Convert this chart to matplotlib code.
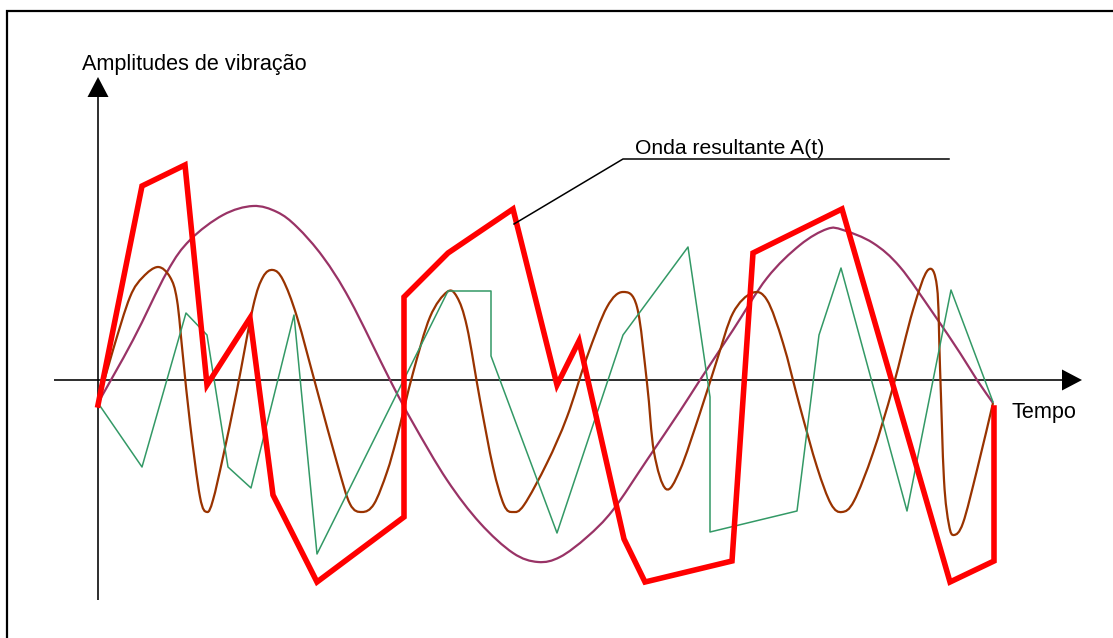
import numpy as np
import matplotlib
matplotlib.use('Agg')
import matplotlib.pyplot as plt
from matplotlib.path import Path
from matplotlib.patches import PathPatch

plt.rcParams['font.family'] = ['Liberation Sans', 'DejaVu Sans']

# time (t) and amplitude (a), origin at the crossing of the two axes

# resulting wave A(t), thick red polyline
red_t = [0, 44, 87, 109, 152, 175, 219, 306, 306, 350, 415, 459, 481, 526, 547, 634, 655, 744, 852, 896, 896]
red_a = [-25, 194, 215, -5, 62, -115, -202, -137, 83, 127, 171, -5, 39, -159, -202, -181, 127, 171, -202, -181, -28]

# green zig-zag component
green_t = [0, 44, 88, 109, 130, 153, 196, 219, 350, 393, 393, 459, 525, 590, 612, 612, 699, 721, 743, 809, 853, 895]
green_a = [-23, -87, 67, 45, -87, -108, 65, -174, 89, 89, 24, -153, 45, 133, -17, -152, -131, 45, 112, -131, 90, -22]

# slow purple component
purple_t = [0, 35, 69, 92, 125, 155, 179, 199, 225, 252, 292, 315, 349, 382, 415, 440, 462, 489, 515,
            549, 582, 602, 635, 669, 702, 729, 745, 775, 802, 835, 862, 879, 895]
purple_a = [-23, 40, 108, 140, 165, 174, 168, 153, 123, 80, 0, -43, -100, -143, -173, -182, -177, -157, -130,
            -80, -31, 0, 50, 102, 135, 151, 150, 137, 113, 67, 27, 0, -23]

# fast brown component
brown_t = [0, 15, 32, 45, 60, 72, 79, 85, 92, 102, 109, 115, 125, 139, 155, 165, 175, 185,
           199, 219, 239, 252, 264, 276, 289, 299, 315, 332, 349, 359, 369, 382, 395, 406, 415,
           426, 449, 469, 489, 509, 525, 539, 549, 556, 568, 582, 602, 619, 635,
           654, 669, 685, 702, 719, 733, 744, 756, 775, 795, 815, 830, 839, 842, 846, 851,
           856, 865, 879, 895]
brown_a = [-23, 30, 83, 103, 113, 103, 80, 23, -43, -117, -132, -120, -77, -10, 73, 103, 110, 100,
           63, -10, -83, -124, -132, -124, -92, -57, 7, 63, 88, 83, 53, -20, -87, -125, -132,
           -125, -83, -37, 23, 73, 88, 73, -3, -72, -109, -90, -33, 20, 67,
           87, 80, 37, -27, -87, -124, -132, -121, -73, -7, 70, 110, 93, 13, -100, -145,
           -155, -143, -90, -23]

# leader line for the label of the resulting wave
leader_t = [416, 525, 851]
leader_a = [156, 221, 221]


def smooth_path(xs, ys):
    # Catmull-Rom through the points, drawn as cubic Bezier segments
    p = np.column_stack([xs, ys]).astype(float)
    p = np.vstack([p[0], p, p[-1]])
    verts = [p[1]]
    codes = [Path.MOVETO]
    for i in range(1, len(p) - 2):
        c1 = p[i] + (p[i + 1] - p[i - 1]) / 6.0
        c2 = p[i + 1] - (p[i + 2] - p[i]) / 6.0
        verts += [c1, c2, p[i + 1]]
        codes += [Path.CURVE4] * 3
    return Path(verts, codes)


fig = plt.figure(figsize=(11.13, 6.38), dpi=100)
ax = fig.add_axes([0, 0, 1, 1])
ax.set_xlim(-98, 1015)
ax.set_ylim(-258, 380)
ax.axis('off')

# frame (only top and left edges are visible)
ax.plot([-91, -91, 1020], [-262, 369, 369], color='black', lw=1.6, solid_joinstyle='miter')

# axes with arrow heads
ax.arrow(-44, 0, 1028, 0, width=1.6, head_width=21, head_length=20,
         length_includes_head=True, color='black', lw=0)
ax.arrow(0, -220, 0, 523, width=1.6, head_width=21, head_length=20,
         length_includes_head=True, color='black', lw=0)

ax.add_patch(PathPatch(smooth_path(purple_t, purple_a), fill=False, edgecolor='#993366', lw=1.6))
ax.add_patch(PathPatch(smooth_path(brown_t, brown_a), fill=False, edgecolor='#993300', lw=1.6))
ax.plot(green_t, green_a, color='#339966', lw=1.1)
ax.plot(red_t, red_a, color='#ff0000', lw=4.0, solid_joinstyle='miter')

ax.plot(leader_t, leader_a, color='black', lw=1.1)

ax.text(-16, 310, 'Amplitudes de vibração', fontsize=15.6, ha='left', va='baseline')
ax.text(913, -38, 'Tempo', fontsize=15.6, ha='left', va='baseline')
ax.text(537, 226, 'Onda resultante A(t)', fontsize=15.2, ha='left', va='baseline')

fig.savefig('out.png', dpi=100)
